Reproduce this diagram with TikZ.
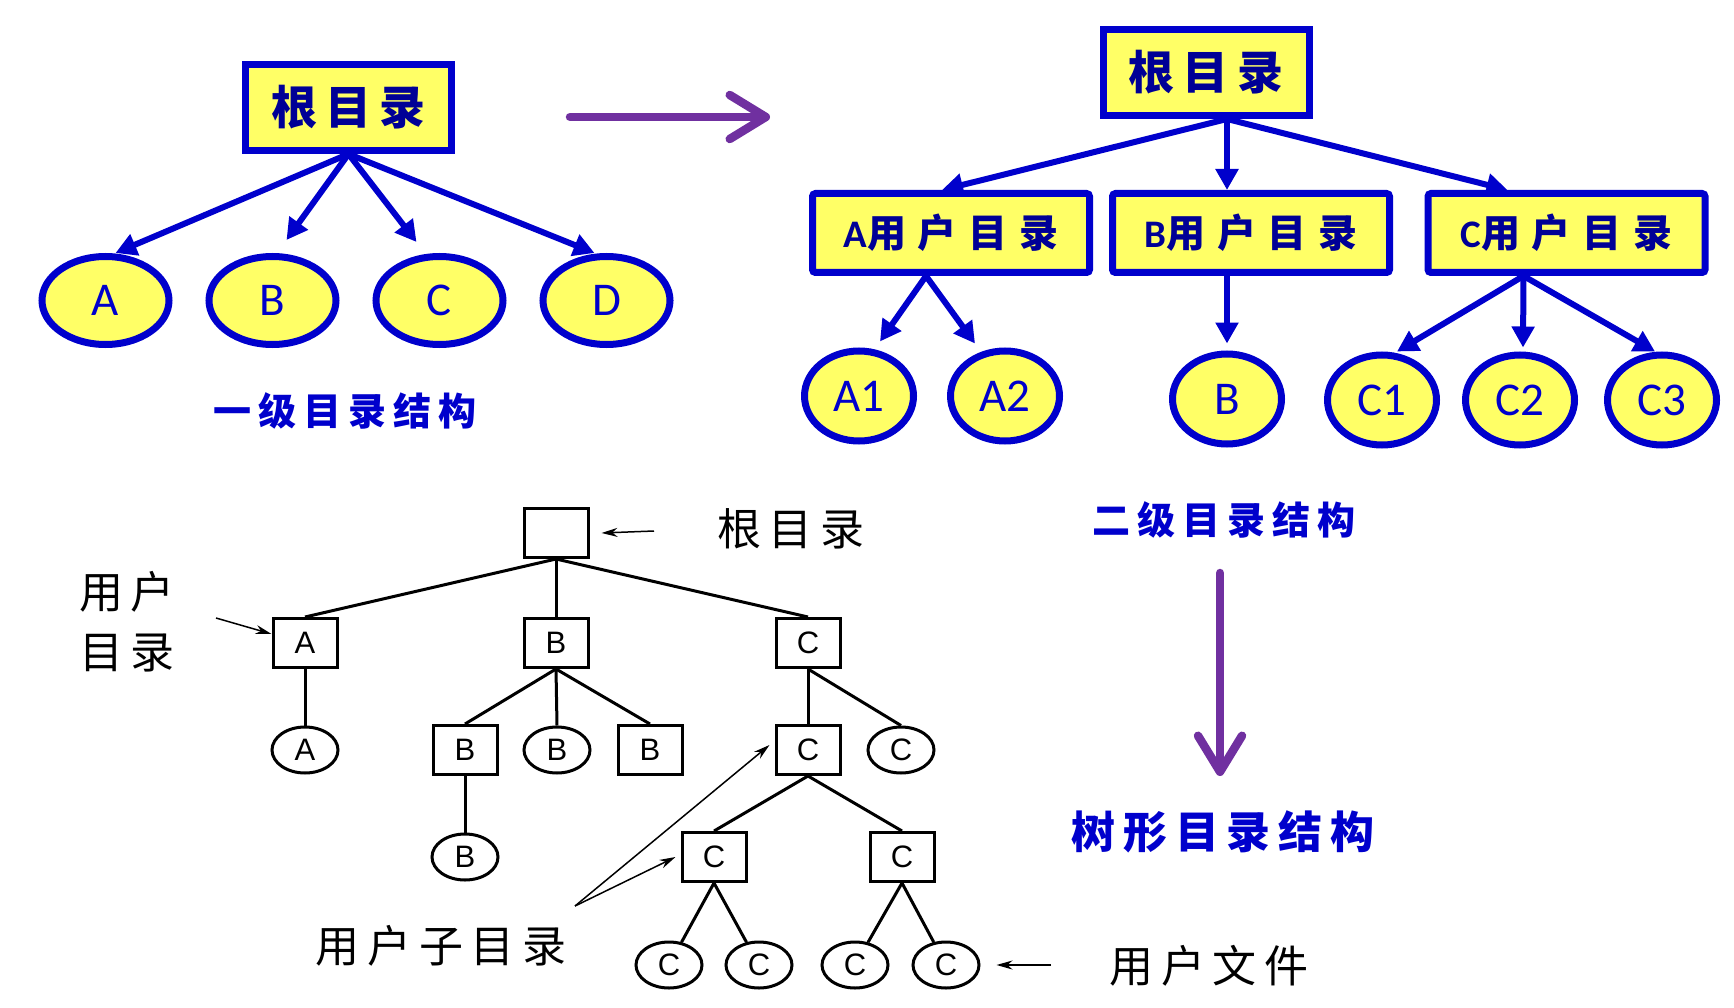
\documentclass[tikz,border=0pt]{standalone}
\usepackage{fontspec}
\setmainfont{Carlito}
\newfontfamily\cjk[LetterSpace=18]{Noto Sans CJK SC}
\newfontfamily\cjkwide[LetterSpace=30]{Noto Sans CJK SC}
\newfontfamily\helv{Liberation Sans}
\usetikzlibrary{positioning, shapes.geometric, arrows.meta, calc}

\definecolor{dirblue}{RGB}{0,0,204}
\definecolor{dirfill}{RGB}{255,255,102}
\definecolor{dirtext}{RGB}{0,0,150}
\definecolor{stepviolet}{RGB}{112,48,160}

\begin{document}
\begin{tikzpicture}[
    x=1pt, y=-1pt,
    rootbox/.style={
        rectangle, draw=dirblue, fill=dirfill, line width=7pt,
        minimum width=206pt, minimum height=86pt, inner sep=0pt,
        text=dirtext, font=\bfseries\cjk\fontsize{46}{48}\selectfont
    },
    userbox/.style={
        rectangle, rounded corners=3pt, draw=dirblue, fill=dirfill, line width=7pt,
        minimum width=277pt, minimum height=79pt, inner sep=0pt,
        text=dirtext, font=\bfseries\fontsize{39}{41}\selectfont
    },
    bub/.style={
        ellipse, draw=dirblue, fill=dirfill, line width=7pt,
        minimum width=127pt, minimum height=88pt, inner sep=0pt,
        text=dirblue, font=\fontsize{47}{49}\selectfont
    },
    smallbub/.style={bub, minimum width=109pt, minimum height=90pt},
    barr/.style={line width=6pt, dirblue, -{Triangle[length=21pt,width=22pt]}},
    parr/.style={line width=8.5pt, stepviolet, line cap=round,
        -{Straight Barb[length=36pt,width=44pt,round]}},
    ttl/.style={text=dirblue, inner sep=0pt, font=\bfseries\cjk\fontsize{38}{40}\selectfont},
    tdir/.style={rectangle, draw, line width=3pt, minimum width=64pt, minimum height=49pt,
        inner sep=0pt, font=\helv\fontsize{31}{33}\selectfont},
    tfile/.style={ellipse, draw, line width=3pt, minimum width=66pt, minimum height=46pt,
        inner sep=0pt, font=\helv\fontsize{31}{33}\selectfont},
    tline/.style={line width=3pt},
    note/.style={line width=1.5pt, -{Stealth[length=16pt,width=9pt]}},
    nlbl/.style={inner sep=0pt, font=\cjk\fontsize{44}{60}\selectfont, align=left},
]
\useasboundingbox (0,0) rectangle (1734,1008);

% One-level directory
\node[rootbox] (root1) at (348.5,107.5) {根目录};
\node[bub] (fA) at (105.5,300.5) {A};
\node[bub, right=33pt of fA] (fB) {B};
\node[bub, right=33pt of fB] (fC) {C};
\node[bub, right=33pt of fC] (fD) {D};
\node[ttl] (lvl1) at (345,411) {一级目录结构};

\draw[barr] (root1.south) -- ([xshift=10pt]fA.north);
\draw[barr] (root1.south) -- ([xshift=14pt,yshift=13pt]fB.north);
\draw[barr] (root1.south) -- ([xshift=-23pt,yshift=11pt]fC.north);
\draw[barr] (root1.south) -- ([xshift=-12pt]fD.north);

% step to two levels
\coordinate (go1) at (570,117);
\coordinate (go2) at (770,117);
\draw[parr] (go1) -- (go2);

% Two-level directory
\node[rootbox] (root2) at (1206,72.5) {根目录};
\node[userbox] (uA) at (951,233) {A\cjkwide 用户目录};
\node[userbox] (uB) at (1251,233) {B\cjkwide 用户目录};
\node[userbox] (uC) at (1566.5,233) {C\cjkwide 用户目录};
\node[smallbub] (fA1) at (859,396) {A1};
\node[smallbub, right=30pt of fA1] (fA2) {A2};
\node[smallbub] (fB2) at (1227,399) {B};
\node[smallbub] (fC1) at (1382,400) {C1};
\node[smallbub, right=22pt of fC1] (fC2) {C2};
\node[smallbub, right=26pt of fC2] (fC3) {C3};
\node[ttl] (lvl2) at (1224,520) {二级目录结构};

\draw[barr] ([xshift=21pt]root2.south) -- ([xshift=-9pt]uA.north);
\draw[barr] ([xshift=21pt]root2.south) -- ([xshift=-24pt]uB.north);
\draw[barr] ([xshift=21pt]root2.south) -- ([xshift=-59pt]uC.north);
\draw[barr] ([xshift=-25pt]uA.south) -- ([xshift=21pt,yshift=6pt]fA1.north);
\draw[barr] ([xshift=-25pt]uA.south) -- ([xshift=-30pt,yshift=4pt]fA2.north);
\draw[barr] ([xshift=-24pt]uB.south) -- ([yshift=7pt]fB2.north);
\draw[barr] ([xshift=-43pt]uC.south) -- ([xshift=15pt]fC1.north);
\draw[barr] ([xshift=-43pt]uC.south) -- ([xshift=3pt,yshift=4pt]fC2.north);
\draw[barr] ([xshift=-43pt]uC.south) -- ([xshift=-7pt]fC3.north);

% step to the tree
\coordinate (go3) at (1220,573);
\coordinate (go4) at (1220,776);
\draw[parr] (go3) -- (go4);
\node[ttl, font=\bfseries\cjk\fontsize{44}{46}\selectfont] (lvl3) at (1223,832) {树形目录结构};

% Tree directory
\node[tdir] (troot) at (556,533) {};
\node[tdir] (tA) at (305,643) {A};
\node[tdir] (tB) at (556,643) {B};
\node[tdir] (tC) at (808,643) {C};
\node[tfile] (tA1) at (305,750) {A};
\node[tdir] (tB1) at (465,750) {B};
\node[tfile] (tB2) at (557,750) {B};
\node[tdir] (tB3) at (650,750) {B};
\node[tdir] (tC1) at (808,750) {C};
\node[tfile] (tC2) at (901,750) {C};
\node[tfile] (tB11) at (465,857) {B};
\node[tdir] (tC11) at (714,857) {C};
\node[tdir] (tC12) at (902,857) {C};
\node[tfile] (tf1) at (669,965) {C};
\node[tfile] (tf2) at (759,965) {C};
\node[tfile] (tf3) at (855,965) {C};
\node[tfile] (tf4) at (946,965) {C};

\draw[tline] (troot.south) -- (tA.north);
\draw[tline] (troot.south) -- (tB.north);
\draw[tline] (troot.south) -- (tC.north);
\draw[tline] (tA.south) -- (tA1.north);
\draw[tline] (tB.south) -- (tB1.north);
\draw[tline] (tB.south) -- (tB2.north);
\draw[tline] (tB.south) -- (tB3.north);
\draw[tline] (tB1.south) -- (tB11.north);
\draw[tline] (tC.south) -- (tC1.north);
\draw[tline] (tC.south) -- (tC2.north);
\draw[tline] (tC1.south) -- (tC11.north);
\draw[tline] (tC1.south) -- (tC12.north);
\draw[tline] (tC11.south) -- (tf1);
\draw[tline] (tC11.south) -- (tf2);
\draw[tline] (tC12.south) -- (tf3);
\draw[tline] (tC12.south) -- (tf4);

% Notes
\node[nlbl] (nRoot) at (791,529) {根目录};
\node[nlbl] (nUser) at (127,622) {用户\\目录};
\node[nlbl] (nSub) at (441,946) {用户子目录};
\node[nlbl] (nFile) at (1209,966) {用户文件};

\coordinate (rootnote) at (654,531);
\coordinate (usernote) at (216,618);
\coordinate (subnote) at (575,906);
\coordinate (filenote) at (1051,965);
\draw[note] (rootnote) -- ([xshift=12pt]troot.east);
\draw[note] (usernote) -- ([yshift=9pt]tA.west);
\draw[note] (subnote) -- ([xshift=-5pt,yshift=5pt]tC1.west);
\draw[note] (subnote) -- ([xshift=-5pt]tC11.west);
\draw[note] (filenote) -- ([xshift=16pt]tf4.east);

\end{tikzpicture}
\end{document}
